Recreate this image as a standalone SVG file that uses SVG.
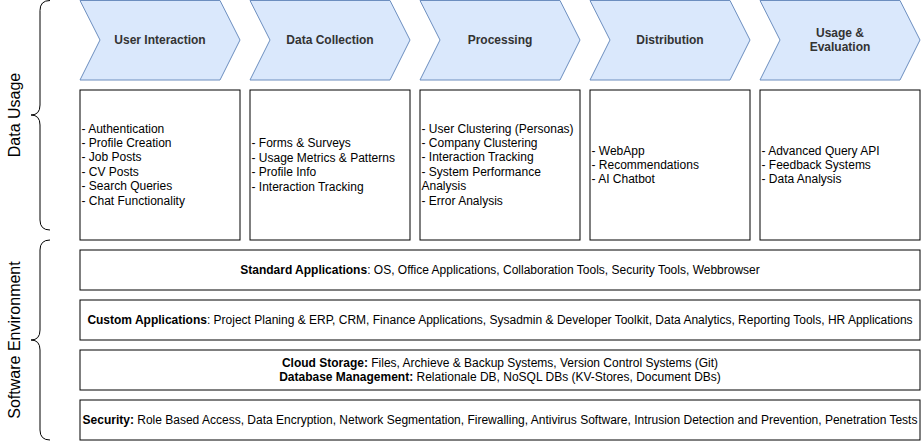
<svg xmlns="http://www.w3.org/2000/svg" width="921" height="441" viewBox="0 0 921 441">
<style>
text{font-family:"Liberation Sans",Arial,Helvetica,sans-serif;}
.chev{fill:#dae8fc;stroke:#6c8ebf;stroke-width:1;}
.box{fill:#ffffff;stroke:#000000;stroke-width:1;}
.brace{fill:none;stroke:#000000;stroke-width:1;}
.hd{font-size:12px;font-weight:bold;fill:#333333;text-anchor:middle;dominant-baseline:central;}
.li{font-size:12px;fill:#000000;dominant-baseline:central;}
.row{font-size:12px;fill:#000000;text-anchor:middle;dominant-baseline:central;}
.side{font-size:16px;fill:#000000;text-anchor:middle;dominant-baseline:central;}
b,.b{font-weight:bold;}
</style>
<rect width="921" height="441" fill="#ffffff"/>
<g id="brace-data-usage">
<path class="brace" d="M50,0.5 Q40,0.5 40,10.5 L40,105 Q40,115 31,115 Q40,115 40,125 L40,220 Q40,230 50,230"/>
<text class="side" transform="translate(14,115) rotate(-90)">Data Usage</text>
</g>
<g id="brace-software-env">
<path class="brace" d="M50,240 Q40,240 40,250 L40,330 Q40,340 31,340 Q40,340 40,350 L40,430 Q40,440 50,440"/>
<text class="side" transform="translate(14,340) rotate(-90)">Software Environment</text>
</g>
<g id="connectors"></g>
<g id="chev-user-interaction">
<path class="chev" d="M80,0.5 L220,0.5 L240,40 L220,80 L80,80 L100,40 Z"/>
<text class="hd" x="160" y="40">User Interaction</text>
</g>
<g id="chev-data-collection">
<path class="chev" d="M250,0.5 L390,0.5 L410,40 L390,80 L250,80 L270,40 Z"/>
<text class="hd" x="330" y="40">Data Collection</text>
</g>
<g id="chev-processing">
<path class="chev" d="M420,0.5 L560,0.5 L580,40 L560,80 L420,80 L440,40 Z"/>
<text class="hd" x="500" y="40">Processing</text>
</g>
<g id="chev-distribution">
<path class="chev" d="M590,0.5 L730,0.5 L750,40 L730,80 L590,80 L610,40 Z"/>
<text class="hd" x="670" y="40">Distribution</text>
</g>
<g id="chev-usage-evaluation">
<path class="chev" d="M760,0.5 L900,0.5 L920,40 L900,80 L760,80 L780,40 Z"/>
<text class="hd" x="840" y="33">Usage &amp;</text>
<text class="hd" x="840" y="47">Evaluation</text>
</g>
<g id="box-user-interaction">
<rect class="box" x="80" y="90" width="160" height="150"/>
<text class="li" x="81.5" y="128.6">- Authentication</text>
<text class="li" x="81.5" y="143">- Profile Creation</text>
<text class="li" x="81.5" y="157.4">- Job Posts</text>
<text class="li" x="81.5" y="171.8">- CV Posts</text>
<text class="li" x="81.5" y="186.2">- Search Queries</text>
<text class="li" x="81.5" y="200.6">- Chat Functionality</text>
</g>
<g id="box-data-collection">
<rect class="box" x="250" y="90" width="160" height="150"/>
<text class="li" x="251.5" y="143.4">- Forms &amp; Surveys</text>
<text class="li" x="251.5" y="157.8">- Usage Metrics &amp; Patterns</text>
<text class="li" x="251.5" y="172.2">- Profile Info</text>
<text class="li" x="251.5" y="186.6">- Interaction Tracking</text>
</g>
<g id="box-processing">
<rect class="box" x="420" y="90" width="160" height="150"/>
<text class="li" x="421.5" y="128.6">- User Clustering (Personas)</text>
<text class="li" x="421.5" y="143">- Company Clustering</text>
<text class="li" x="421.5" y="157.4">- Interaction Tracking</text>
<text class="li" x="421.5" y="171.8">- System Performance</text>
<text class="li" x="421.5" y="186.2">Analysis</text>
<text class="li" x="421.5" y="200.6">- Error Analysis</text>
</g>
<g id="box-distribution">
<rect class="box" x="590" y="90" width="160" height="150"/>
<text class="li" x="591.5" y="150.6">- WebApp</text>
<text class="li" x="591.5" y="165">- Recommendations</text>
<text class="li" x="591.5" y="179.4">- AI Chatbot</text>
</g>
<g id="box-usage-evaluation">
<rect class="box" x="760" y="90" width="160" height="150"/>
<text class="li" x="761.5" y="150.6">- Advanced Query API</text>
<text class="li" x="761.5" y="165">- Feedback Systems</text>
<text class="li" x="761.5" y="179.4">- Data Analysis</text>
</g>
<g id="row-standard-apps">
<rect class="box" x="80" y="250" width="840" height="40"/>
<text class="row" x="500" y="270"><tspan class="b">Standard Applications</tspan>: OS, Office Applications, Collaboration Tools, Security Tools, Webbrowser</text>
</g>
<g id="row-custom-apps">
<rect class="box" x="80" y="300" width="840" height="40"/>
<text class="row" x="500" y="320"><tspan class="b">Custom Applications</tspan>: Project Planing &amp; ERP, CRM, Finance Applications, Sysadmin &amp; Developer Toolkit, Data Analytics, Reporting Tools, HR Applications</text>
</g>
<g id="row-storage">
<rect class="box" x="80" y="350" width="840" height="40"/>
<text class="row" x="500" y="362.8"><tspan class="b">Cloud Storage:</tspan> Files, Archieve &amp; Backup Systems, Version Control Systems (Git)</text>
<text class="row" x="500" y="377.2"><tspan class="b">Database Management:</tspan> Relationale DB, NoSQL DBs (KV-Stores, Document DBs)</text>
</g>
<g id="row-security">
<rect class="box" x="80" y="400" width="840" height="40"/>
<text class="row" x="500" y="420"><tspan class="b">Security:</tspan> Role Based Access, Data Encryption, Network Segmentation, Firewalling, Antivirus Software, Intrusion Detection and Prevention, Penetration Tests</text>
</g>
</svg>
